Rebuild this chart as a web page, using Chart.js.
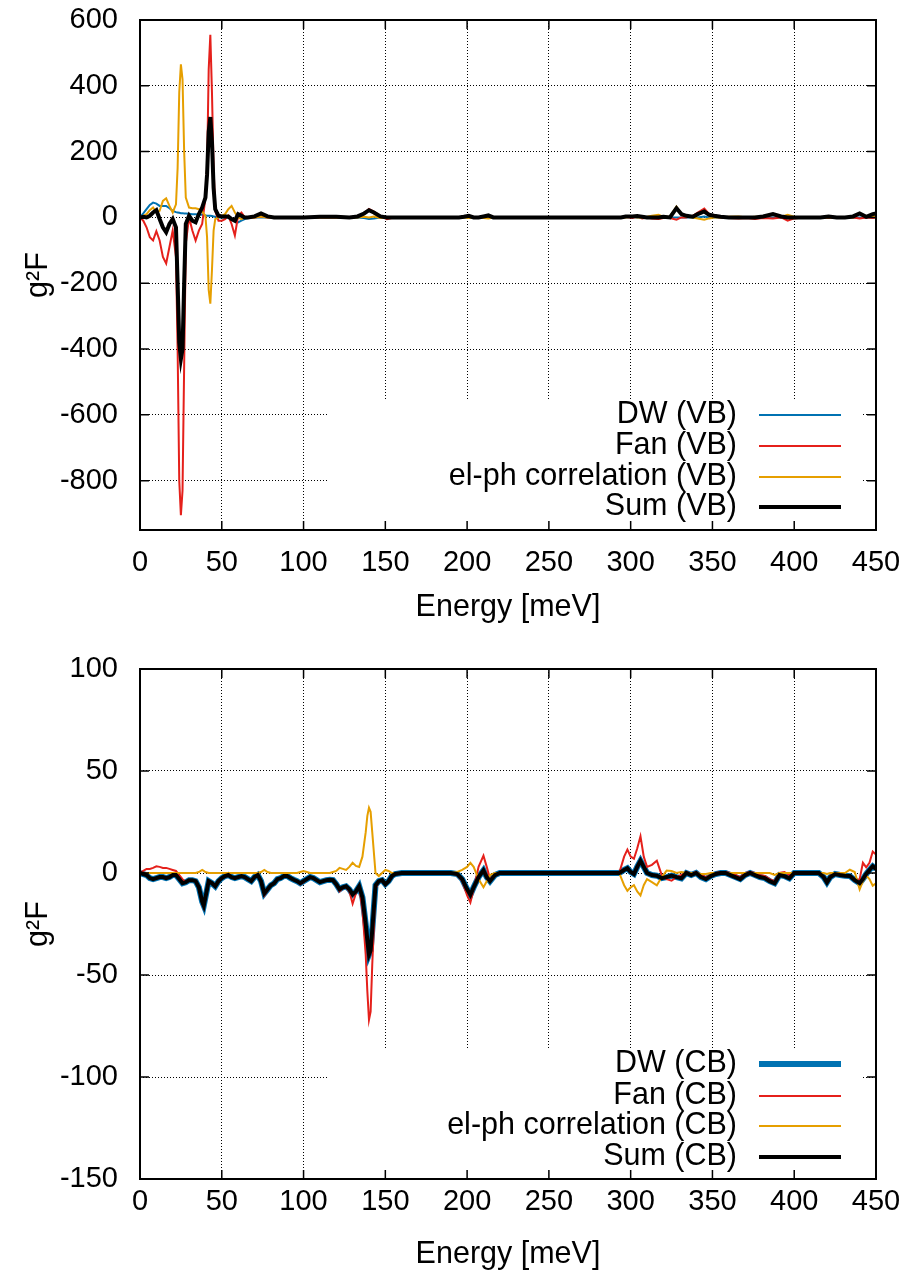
<!DOCTYPE html>
<html>
<head>
<meta charset="utf-8">
<script src="https://cdn.jsdelivr.net/npm/chart.js@4.4.1/dist/chart.umd.min.js"></script>
<style>
  html, body { margin: 0; padding: 0; background: #fff; }
  canvas { display: block; }
</style>
</head>
<body>
<canvas id="vb-chart" width="910" height="640"></canvas>
<canvas id="cb-chart" width="910" height="637"></canvas>
<script>
'use strict';

// ---- data ----
var energyTicks = [0, 50, 100, 150, 200, 250, 300, 350, 400, 450];
var vbTicks = [-800, -600, -400, -200, 0, 200, 400, 600];
var cbTicks = [-150, -100, -50, 0, 50, 100];

// valence band (top panel)
var vbEnergy = [
    0, 2, 4, 6, 8, 10, 12, 14, 16, 18,
    20, 22, 23, 24, 25, 26, 27, 28, 30, 32,
    34, 36, 38, 40, 41, 42, 43, 44, 45, 46,
    48, 50, 52, 54, 56, 58, 60, 62, 64, 66,
    70, 74, 78, 82, 90, 100, 110, 120, 128, 133,
    137, 140, 143, 147, 151, 155, 165, 180, 195, 198,
    201, 204, 207, 210, 213, 216, 220, 240, 260, 280,
    290, 294, 297, 301, 304, 307, 310, 313, 317, 320,
    324, 328, 331, 334, 338, 341, 345, 348, 351, 355,
    360, 366, 371, 376, 381, 387, 392, 396, 400, 405,
    410, 416, 421, 426, 431, 436, 440, 444, 448, 450
];
var vbDW = [
    0, 12, 25, 38, 45, 42, 35, 35, 35, 28,
    20, 16, 15, 14, 13, 13, 12, 12, 11, 10,
    10, 9, 8, 6, 5, 5, 5, 4, 3, 2,
    0, 0, 0, -2, -5, -10, -15, -10, -5, -2,
    0, 0, 0, 0, 0, 0, 0, 0, 0, 0,
    -2, -5, -3, 0, 0, 0, 0, 0, 0, 0,
    0, 0, 0, 0, 0, 0, 0, 0, 0, 0,
    0, 0, 3, 2, 0, 0, 0, 0, 0, 0,
    0, 0, 0, 0, 0, 0, 3, 0, 0, 0,
    0, 0, 0, 0, 0, 0, 0, 0, 0, 0,
    0, 0, 0, 0, 0, 0, 0, 0, 0, 0
];
var vbFan = [
    0, -10, -30, -60, -70, -42, -70, -120, -140, -90,
    -40, -120, -400, -800, -905, -830, -450, -80, 0, -40,
    -70, -40, -20, 60, 150, 450, 555, 380, 150, 20,
    -10, -10, -5, 5, -20, -55, 5, 15, 0, 0,
    0, 3, 0, 0, 0, 0, 0, 0, 0, 2,
    12, 26, 18, 5, -5, 0, 0, 0, 0, 2,
    5, 0, 0, 3, 4, 0, 0, 0, 0, 0,
    0, 0, 2, -2, 3, -3, 0, -3, -5, -2,
    -2, -7, 0, 0, 5, 15, 27, 10, 3, 0,
    -2, -3, -2, -5, -2, -3, 0, -10, -3, 0,
    0, 0, -2, 0, 0, 0, -3, 0, -2, 0
];
var vbCorr = [
    0, 5, 10, 22, 30, 15, 20, 50, 58, 35,
    15, 40, 150, 380, 465, 420, 200, 60, 30, 28,
    28, 25, 18, 5, -60, -220, -262, -160, -40, -5,
    0, 5, 10, 25, 35, 15, 0, -5, 0, 0,
    0, 3, 0, 0, 0, 0, 0, 0, 0, 0,
    2, 0, 3, -2, 0, 0, 0, 0, 0, 0,
    -2, 0, 0, -2, -3, 0, 0, 0, 0, 0,
    0, 0, 0, 3, 0, 0, 2, 5, 8, 2,
    3, 33, 10, 2, 0, -3, -7, -3, 0, 0,
    2, 3, 0, 2, 3, 8, 2, 8, 2, 0,
    0, 0, 0, 0, 0, 0, 12, 2, 5, 3
];
var vbSum = [
    0, 2, 0, 5, 15, 22, -5, -30, -45, -20,
    -5, -30, -200, -380, -430, -400, -200, -20, 5, -10,
    -15, 10, 30, 60, 130, 260, 305, 230, 90, 25,
    5, 3, 3, 3, -5, -10, 10, 5, 0, 0,
    3, 12, 3, 0, 0, 0, 2, 2, 0, 3,
    12, 22, 15, 3, 0, 0, 0, 0, 0, 2,
    5, 0, 0, 3, 6, 0, 0, 0, 0, 0,
    0, 0, 3, 3, 4, 2, 0, 0, 0, 2,
    0, 28, 10, 5, 2, 10, 18, 8, 5, 2,
    0, 0, 0, 0, 3, 10, 3, 0, 0, 0,
    0, 0, 3, 0, 0, 3, 12, 2, 10, 12
];

// conduction band (bottom panel)
var cbEnergy = [
    0, 2, 4, 6, 8, 10, 12, 14, 16, 18,
    20, 22, 24, 26, 28, 30, 32, 34, 36, 38,
    39, 40, 42, 44, 46, 48, 50, 52, 54, 56,
    58, 60, 62, 64, 66, 68, 70, 72, 74, 76,
    78, 80, 82, 84, 86, 88, 90, 92, 94, 96,
    98, 100, 102, 104, 106, 108, 110, 112, 114, 116,
    118, 120, 122, 124, 126, 128, 130, 132, 134, 136,
    138, 139, 140, 141, 142, 144, 146, 148, 150, 152,
    154, 156, 160, 180, 190, 194, 197, 200, 202, 204,
    207, 210, 212, 214, 217, 220, 260, 290, 293, 296,
    298, 300, 302, 304, 306, 308, 310, 313, 316, 319,
    322, 325, 328, 331, 334, 337, 340, 343, 346, 349,
    352, 355, 358, 361, 364, 367, 370, 373, 376, 379,
    382, 385, 388, 391, 394, 397, 400, 405, 410, 415,
    418, 420, 422, 425, 428, 431, 434, 437, 440, 442,
    444, 446, 448, 450
];
var cbDW = [
    0, -0.5, -1, -2.5, -3, -2.5, -2, -2, -2.5, -2,
    -1, -1, -3, -5, -4.5, -3.5, -3.5, -4, -7, -14,
    -16, -12, -4, -5, -6.5, -4, -2.5, -1.5, -1, -2,
    -2.5, -2, -1.5, -2, -3, -4, -2, -1, -4, -10,
    -8, -6, -5, -3, -2.5, -1.5, -1.5, -2.5, -3.3, -4,
    -5, -4, -3, -2, -2.5, -3.5, -4.5, -4, -3.5, -3.3,
    -3.5, -5.5, -8, -7, -6.5, -8, -10.5, -9, -6.5, -12,
    -25, -33, -40, -38, -28, -6, -4, -3.5, -5.5, -4,
    -1.5, -0.5, 0, 0, 0, -0.5, -3, -8, -10.7, -7,
    -2, 1.3, -2, -4, -1, 0, 0, 0, 0, 1.5,
    2.3, 0.5, -0.5, 3, 6, 3, 0, -1, -1.3, -2.5,
    -2, -1.3, -2, -2.6, 0, -1, 0, -2, -3, -1.5,
    -0.5, 0, 0, -1, -2, -3, -1, 0, -1, -2,
    -2.5, -4, -5, -1, -1.5, -2.6, 0, 0, 0, 0,
    -2, -4.6, -2, -0.5, -1, -1.3, -1.5, -3.5, -5, -3,
    -0.5, 1.5, 3.3, 2
];
var cbFan = [
    0, 1, 2, 2, 2.5, 3.3, 3, 2.5, 2.5, 2,
    1.5, 1, -1, -3, -4.5, -3.5, -3.5, -4, -7, -15,
    -17, -13, -4, -5, -6.5, -4, -2.5, -1.5, -1, -2,
    -2.5, -2, -1.5, -2, -3, -4, -2, -1, -4, -11,
    -8.5, -6, -5, -3, -2.5, -1.5, -1.5, -2.5, -3.3, -4,
    -5.5, -4.5, -3, -2, -2.5, -3.5, -4.5, -4, -3.5, -3.3,
    -3.5, -6, -9, -7.5, -7, -9, -15, -10, -7, -18,
    -40, -58, -72, -68, -45, -8, -4, -4, -6, -4,
    -1.5, -0.5, 0, 0, 0, -1, -4, -11, -14.5, -8,
    3, 8.5, 3, -3, -1, 0, 0, 0, 0, 8,
    11.5, 8, 7, 12, 18, 8, 3, 4, 6, -1,
    -3, -3.8, -2, -1, 0.5, -0.5, 0.5, -1, -2, -1,
    0, 0.5, 0.5, 0, -1, -2, 0, 0.5, 0, -1,
    -1.5, -3, -4, 0, 0.5, -1, 0.5, 0, 0, 0,
    -1.5, -4, -1.5, 0, 0, -1, -1, -4, -3, 5,
    2.8, 5, 10.5, 9
];
var cbCorr = [
    0, 0, 0, 0, 0, 0, 0, 0, 0, 0,
    0, 0, 0, 0, 0, 0, 0, 0, 0.5, 1.5,
    1, 0.5, 0, 0, 0, 0, 0, 0, 0, 0,
    0, 0, 0, 0, 0, 0, 0, 0, 0.5, 1.5,
    0.5, 0, 0, 0, 0, 0, 0, 0, 0, 0,
    0.5, 1, 0.5, 0, 0, 0, 0, 0, 0, 0,
    0.5, 1, 2.5, 2, 1.5, 3, 5, 3.5, 3, 8,
    20, 28, 32, 30, 20, 0, -1.5, 0, 1.5, 1,
    0, 0, 0, 0, 0, 0.5, 1.5, 3, 5, 3,
    -3, -7, -4, -1, 0, 0, 0, 0, 0, -6,
    -8.7, -7, -6, -9, -11, -6, -3, -4.5, -6, -2,
    1.2, 1, 0, 0.5, 0, 0, 0, -0.5, -0.5, 0,
    0, 0, 0, 0, 0, 0, 0, 0, 0, 0,
    0, 0, -1, 0, 0, 0, 0, 0, 0, 0,
    0, -0.5, 0, 0, 0, 0, 1.6, 0.5, -8, -4,
    -1.3, -3, -6.2, -5
];
var cbSum = [
    0, -0.5, -1, -2.5, -3, -2.5, -2, -2, -2.5, -2,
    -1, -1, -3, -5, -4.5, -3.5, -3.5, -4, -7, -14,
    -16, -12, -4, -5, -6.5, -4, -2.5, -1.5, -1, -2,
    -2.5, -2, -1.5, -2, -3, -4, -2, -1, -4, -10,
    -8, -6, -5, -3, -2.5, -1.5, -1.5, -2.5, -3.3, -4,
    -5, -4, -3, -2, -2.5, -3.5, -4.5, -4, -3.5, -3.3,
    -3.5, -5.5, -8, -7, -6.5, -8, -10.5, -9, -6.5, -12,
    -25, -33, -40, -38, -28, -6, -4, -3.5, -5.5, -4,
    -1.5, -0.5, 0, 0, 0, -0.5, -3, -8, -10.7, -7,
    -2, 1.3, -2, -4, -1, 0, 0, 0, 0, 1.5,
    2.3, 0.5, -0.5, 3, 6, 3, 0, -1, -1.3, -2.5,
    -2, -1.3, -2, -2.6, 0, -1, 0, -2, -3, -1.5,
    -0.5, 0, 0, -1, -2, -3, -1, 0, -1, -2,
    -2.5, -4, -5, -1, -1.5, -2.6, 0, 0, 0, 0,
    -2, -4.6, -2, -0.5, -1, -1.3, -1.5, -3.5, -5, -3,
    -0.5, 1.5, 3.3, 2
];

// ---- styling ----
var FONT = '"Liberation Sans", Arial, Helvetica, sans-serif';
var TICK_SIZE = 29;
var LABEL_SIZE = 30.5;
var BLUE = '#0072b2';
var RED = '#e5201b';
var ORANGE = '#e69f00';

function toPoints(xs, ys) {
    return xs.map(function(x, i) { return { x: x, y: ys[i] }; });
}

function makeDataset(label, xs, ys, color, width, order) {
    return {
        label: label,
        data: toPoints(xs, ys),
        borderColor: color,
        backgroundColor: color,
        borderWidth: width,
        pointRadius: 0,
        tension: 0,
        fill: false,
        order: order
    };
}

// gnuplot-style frame, inward ticks and opaque key box
var frameAndKey = {
    id: 'frameAndKey',
    beforeDatasetsDraw: function(chart, args, opts) {
        var ctx = chart.ctx;
        var box = opts.box;
        ctx.save();
        ctx.fillStyle = '#fff';
        ctx.fillRect(box.left, box.top, box.right - box.left, box.bottom - box.top);
        ctx.font = LABEL_SIZE + 'px ' + FONT;
        ctx.textAlign = 'right';
        ctx.textBaseline = 'middle';
        chart.data.datasets.forEach(function(ds, i) {
            var y = opts.rows[i];
            ctx.fillStyle = '#000';
            ctx.fillText(ds.label, opts.textRight, y);
            ctx.strokeStyle = ds.borderColor;
            ctx.lineWidth = ds.borderWidth;
            ctx.beginPath();
            ctx.moveTo(opts.sampleFrom, y);
            ctx.lineTo(opts.sampleTo, y);
            ctx.stroke();
        });
        ctx.restore();
    },
    afterDatasetsDraw: function(chart) {
        var ctx = chart.ctx;
        var a = chart.chartArea;
        var xs = chart.scales.x;
        var ys = chart.scales.y;
        var len = 9;
        ctx.save();
        ctx.strokeStyle = '#000';
        ctx.lineWidth = 1.5;
        ctx.beginPath();
        xs.ticks.forEach(function(t) {
            var px = xs.getPixelForValue(t.value);
            ctx.moveTo(px, a.bottom); ctx.lineTo(px, a.bottom - len);
            ctx.moveTo(px, a.top); ctx.lineTo(px, a.top + len);
        });
        ys.ticks.forEach(function(t) {
            var py = ys.getPixelForValue(t.value);
            ctx.moveTo(a.left, py); ctx.lineTo(a.left + len, py);
            ctx.moveTo(a.right, py); ctx.lineTo(a.right - len, py);
        });
        ctx.stroke();
        ctx.lineWidth = 2;
        ctx.strokeRect(a.left, a.top, a.right - a.left, a.bottom - a.top);
        ctx.restore();
    }
};

function makeChart(canvasId, datasets, yMin, yMax, yTicks, pad, key) {
    var ctx = document.getElementById(canvasId).getContext('2d');
    var tickFont = { family: FONT, size: TICK_SIZE };
    var labelFont = { family: FONT, size: LABEL_SIZE };
    return new Chart(ctx, {
        type: 'line',
        data: { datasets: datasets },
        plugins: [frameAndKey],
        options: {
            responsive: false,
            animation: false,
            events: [],
            layout: { padding: { left: 0, right: 34, top: pad.top, bottom: 0 } },
            plugins: {
                legend: { display: false },
                tooltip: { enabled: false },
                frameAndKey: key
            },
            scales: {
                x: {
                    type: 'linear',
                    min: 0,
                    max: 450,
                    afterFit: function(s) { s.height = pad.xHeight; },
                    afterBuildTicks: function(s) {
                        s.ticks = energyTicks.map(function(v) { return { value: v }; });
                    },
                    ticks: {
                        font: tickFont,
                        color: '#000',
                        padding: 0,
                        autoSkip: false,
                        maxRotation: 0
                    },
                    // invisible tick marks push the labels away from the frame
                    grid: {
                        color: '#000',
                        lineWidth: 1,
                        drawTicks: true,
                        tickLength: pad.xTickGap,
                        tickColor: 'rgba(0,0,0,0)'
                    },
                    border: { display: false, dash: [1, 2] },
                    title: {
                        display: true,
                        text: 'Energy [meV]',
                        font: labelFont,
                        color: '#000',
                        padding: { top: 0, bottom: pad.xTitlePad }
                    }
                },
                y: {
                    type: 'linear',
                    min: yMin,
                    max: yMax,
                    afterFit: function(s) { s.width = 140; },
                    afterBuildTicks: function(s) {
                        s.ticks = yTicks.map(function(v) { return { value: v }; });
                    },
                    ticks: {
                        font: tickFont,
                        color: '#000',
                        padding: 0
                    },
                    grid: {
                        color: '#000',
                        lineWidth: 1,
                        drawTicks: true,
                        tickLength: 22,
                        tickColor: 'rgba(0,0,0,0)'
                    },
                    border: { display: false, dash: [1, 2] },
                    title: {
                        display: true,
                        text: 'g\u00b2F',
                        font: labelFont,
                        color: '#000',
                        padding: { top: 20, bottom: 0 }
                    }
                }
            }
        }
    });
}

makeChart('vb-chart', [
    makeDataset('DW (VB)', vbEnergy, vbDW, BLUE, 2, 4),
    makeDataset('Fan (VB)', vbEnergy, vbFan, RED, 2, 3),
    makeDataset('el-ph correlation (VB)', vbEnergy, vbCorr, ORANGE, 2, 2),
    makeDataset('Sum (VB)', vbEnergy, vbSum, '#000', 4, 1)
], -950, 600, vbTicks,
    { top: 20, xHeight: 110, xTickGap: 16, xTitlePad: 14 },
    { box: { left: 329, right: 861, top: 400, bottom: 530 },
      rows: [415, 446, 477, 507], textRight: 737, sampleFrom: 759, sampleTo: 841 });

makeChart('cb-chart', [
    makeDataset('DW (CB)', cbEnergy, cbDW, BLUE, 6, 4),
    makeDataset('Fan (CB)', cbEnergy, cbFan, RED, 2, 3),
    makeDataset('el-ph correlation (CB)', cbEnergy, cbCorr, ORANGE, 2, 2),
    makeDataset('Sum (CB)', cbEnergy, cbSum, '#000', 4, 1)
], -150, 100, cbTicks,
    { top: 29, xHeight: 98, xTickGap: 6, xTitlePad: 4 },
    { box: { left: 329, right: 861, top: 409, bottom: 539 },
      rows: [424, 456, 486, 517], textRight: 737, sampleFrom: 759, sampleTo: 841 });
</script>
</body>
</html>
